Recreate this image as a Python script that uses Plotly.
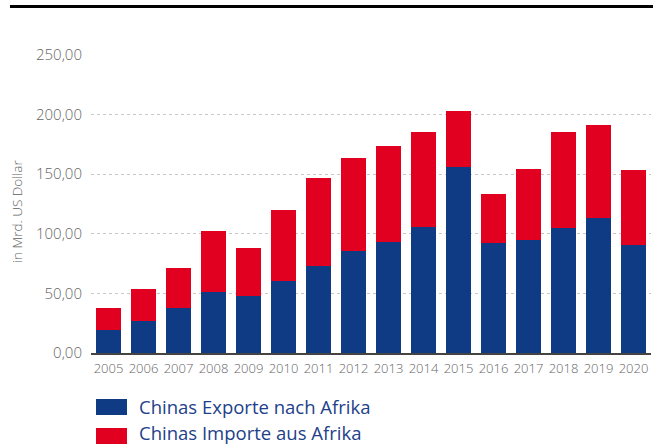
import plotly.graph_objects as go

years = ["2005", "2006", "2007", "2008", "2009", "2010", "2011", "2012",
         "2013", "2014", "2015", "2016", "2017", "2018", "2019", "2020"]
exports = [19.0, 26.6, 37.8, 51.0, 47.6, 60.0, 73.0, 85.3,
           93.0, 105.5, 155.8, 92.0, 94.8, 104.9, 113.3, 90.3]
imports = [18.5, 26.9, 33.2, 51.0, 40.4, 59.7, 73.6, 78.1,
           80.4, 79.5, 47.0, 41.0, 59.2, 80.1, 77.7, 62.9]
series_names = ["Chinas Exporte nach Afrika", "Chinas Importe aus Afrika"]
series_colors = ["#0f3a84", "#e10020"]
y_tickvals = [0, 50, 100, 150, 200, 250]
y_ticktext = ["0,00", "50,00", "100,00", "150,00", "200,00", "250,00"]
y_title = "in Mrd. US Dollar"

W, H = 655, 445
ML, MR, MT, MB = 91, 4, 55, 92
PW = W - ML - MR
PH = H - MT - MB


def px_x(px):
    return (px - ML) / PW


def px_y(py):
    return (H - MB - py) / PH


fig = go.Figure()
for name, vals, col in zip(series_names, [exports, imports], series_colors):
    fig.add_trace(go.Bar(x=years, y=vals, name=name, marker_color=col,
                         marker_line_width=0, showlegend=False))

shapes = []
annotations = []
# top black rule
shapes.append(dict(type="line", xref="paper", yref="paper",
                   x0=px_x(10), x1=px_x(653), y0=px_y(6.5), y1=px_y(6.5),
                   line=dict(color="#000000", width=3)))
# legend swatches + labels
leg_swatch = [407, 436]
leg_text = [406.5, 432.5]
for name, col, ys, yt in zip(series_names, series_colors, leg_swatch, leg_text):
    shapes.append(dict(type="rect", xref="paper", yref="paper",
                       x0=px_x(96), x1=px_x(127), y0=px_y(ys - 8), y1=px_y(ys + 8),
                       fillcolor=col, line=dict(width=0)))
    annotations.append(dict(text=name, xref="paper", yref="paper",
                            x=px_x(137), y=px_y(yt), xanchor="left", yanchor="middle",
                            showarrow=False,
                            font=dict(family="Open Sans", size=18.5, color="#22408a")))
# y-axis title
annotations.append(dict(text=y_title, xref="paper", yref="paper",
                        x=px_x(17), y=px_y(212), textangle=-90,
                        xanchor="center", yanchor="middle", showarrow=False,
                        font=dict(family="Open Sans", size=13.5, color="#5e5e5e", weight=300)))

fig.update_layout(
    width=W, height=H,
    margin=dict(l=ML, r=MR, t=MT, b=MB),
    barmode="stack",
    bargap=0.286,
    plot_bgcolor="white",
    paper_bgcolor="white",
    shapes=shapes,
    annotations=annotations,
    xaxis=dict(showgrid=False, showline=True, linecolor="#444444", linewidth=2,
               ticks="", tickfont=dict(family="Open Sans", size=13, color="#666666", weight=300),
               ticklabelstandoff=2),
    yaxis=dict(range=[0, 250], tickvals=y_tickvals, ticktext=y_ticktext,
               showgrid=True, gridcolor="#c8c8c8", griddash="dot", gridwidth=1,
               zeroline=False, showline=False, ticks="",
               tickfont=dict(family="Open Sans", size=15, color="#666666", weight=300),
               ticklabelstandoff=8),
)

fig.write_html("out.html", config={"displayModeBar": False},
               post_script="document.body.style.margin='0';document.body.style.overflow='hidden';")
